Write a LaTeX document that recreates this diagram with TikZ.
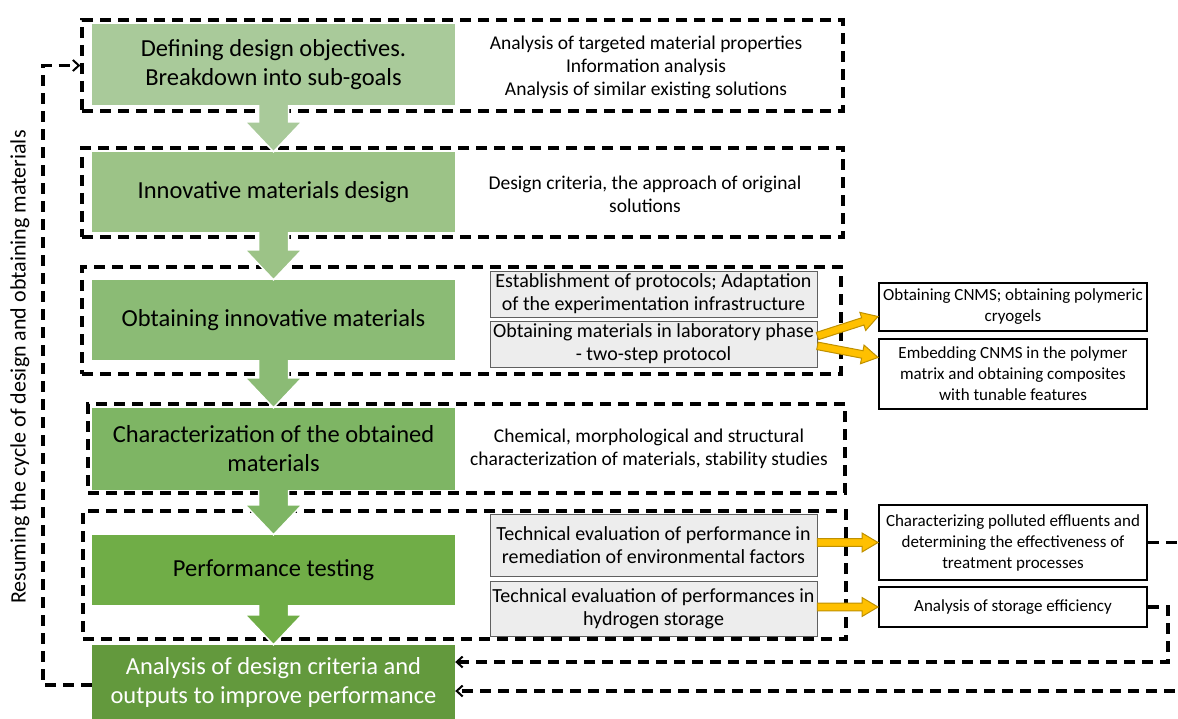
\documentclass[tikz,border=0pt]{standalone}
\usepackage{fontspec}
\setmainfont{Carlito}
\usetikzlibrary{calc,arrows.meta}
\definecolor{gA}{HTML}{A9CA9A}
\definecolor{gB}{HTML}{9CC387}
\definecolor{gC}{HTML}{8BBB75}
\definecolor{gD}{HTML}{7EB564}
\definecolor{gE}{HTML}{70AD47}
\definecolor{gF}{HTML}{63993D}
\definecolor{grayfill}{HTML}{EDEDED}
\definecolor{grayline}{HTML}{606060}
\definecolor{goldfill}{HTML}{FFC000}
\definecolor{goldline}{HTML}{BF9000}
\tikzset{
 stage/.style={fill=#1, minimum width=363pt, inner sep=0pt, align=center, font=\fontsize{24.5}{29}\selectfont},
 dashframe/.style={draw=black, line width=3.3pt, dash pattern=on 11pt off 7pt, inner sep=0pt},
 sidetext/.style={align=center, font=\fontsize{19.5}{23}\selectfont, inner sep=0pt},
 graybox/.style={draw=grayline, fill=grayfill, line width=0.9pt, minimum width=327pt, inner sep=0pt, align=center, font=\fontsize{20}{23}\selectfont},
 outbox/.style={draw=black, fill=white, line width=2pt, minimum width=268pt, inner sep=0pt, align=center, font=\fontsize{17}{21}\selectfont},
 feedback/.style={draw=black, line width=3.3pt, dash pattern=on 11pt off 7pt, -{Straight Barb[length=6pt,width=11pt,line width=2pt]}},
}
\newcommand{\stagearrow}[3]{%
 \fill[#3] ($(#1.south)+(-15,0)$) -- ($(#2.north)+(-15,-30)$) -- ($(#2.north)+(-28.5,-30)$) -- (#2.north) -- ($(#2.north)+(28.5,-30)$) -- ($(#2.north)+(15,-30)$) -- ($(#1.south)+(15,0)$) -- cycle;
 \draw[white, line width=1.5pt, line join=miter] ($(#1.south)+(-15,0)$) -- ($(#2.north)+(-15,-30)$) -- ($(#2.north)+(-28.5,-30)$) -- (#2.north) -- ($(#2.north)+(28.5,-30)$) -- ($(#2.north)+(15,-30)$) -- ($(#1.south)+(15,0)$);
}
\newcommand{\goldarrow}[2]{%
 \coordinate (gaS) at (#1);
 \coordinate (gaE) at (#2);
 \coordinate (gaH) at ($(gaE)!16pt!(gaS)$);
 \filldraw[fill=goldfill, draw=goldline, line width=1pt, line join=miter]
   ($(gaS)!3.8pt!90:(gaE)$) -- ($(gaH)!3.8pt!90:(gaE)$) -- ($(gaH)!9.5pt!90:(gaE)$) -- (gaE)
   -- ($(gaH)!9.5pt!-90:(gaE)$) -- ($(gaH)!3.8pt!-90:(gaE)$) -- ($(gaS)!3.8pt!-90:(gaE)$) -- cycle;
}
\begin{document}
\begin{tikzpicture}[x=1pt,y=-1pt]
\useasboundingbox (0,0) rectangle (1178,719);

% dashed frames
\node[dashframe, minimum width=761pt, minimum height=91pt] (d1) at (462.5,65.5) {};
\node[dashframe, minimum width=761pt, minimum height=89pt] (d2) at (462.5,192.5) {};
\node[dashframe, minimum width=759pt, minimum height=107pt] (d3) at (461.5,320.5) {};
\node[dashframe, minimum width=757pt, minimum height=89pt] (d4) at (466.5,448.5) {};
\node[dashframe, minimum width=763pt, minimum height=128pt] (d5) at (464.5,575) {};

% stages
\node[stage=gA, minimum height=81pt] (g1) at (273.5,64.5) {Defining design objectives.\\Breakdown into sub-goals};
\node[stage=gB, minimum height=80pt] (g2) at (273.5,192) {Innovative materials design};
\node[stage=gC, minimum height=80pt] (g3) at (273.5,320) {Obtaining innovative materials};
\node[stage=gD, minimum height=82pt] (g4) at (273.5,449) {Characterization of the obtained\\materials};
\node[stage=gE, minimum height=70pt] (g5) at (273.5,570) {Performance testing};
\node[stage=gF, minimum height=74pt, text=white] (g6) at (273.5,682) {Analysis of design criteria and\\outputs to improve performance};

\stagearrow{g1}{g2}{gA}
\stagearrow{g2}{g3}{gB}
\stagearrow{g3}{g4}{gC}
\stagearrow{g4}{g5}{gD}
\stagearrow{g5}{g6}{gE}

% side texts
\node[sidetext] (t1) at (646,67) {Analysis of targeted material properties\\Information analysis\\Analysis of similar existing solutions};
\node[sidetext] (t2) at (645,194.5) {Design criteria, the approach of original\\solutions};
\node[sidetext] (t4) at (649,449) {Chemical, morphological and structural\\characterization of materials, stability studies};

% gray boxes
\node[graybox, minimum height=46pt] (ga) at (653.5,294) {Establishment of protocols; Adaptation\\of the experimentation infrastructure};
\node[graybox, minimum height=46pt] (gb) at (653.5,344) {Obtaining materials in laboratory phase\\- two-step protocol};
\node[graybox, minimum height=62pt] (gd) at (653.5,545) {Technical evaluation of performance in\\remediation of environmental factors};
\node[graybox, minimum height=55pt] (ge) at (653.5,608.5) {Technical evaluation of performances in\\hydrogen storage};

% output boxes
\node[outbox, minimum height=48pt] (c1) at (1013,307) {Obtaining CNMS; obtaining polymeric\\cryogels};
\node[outbox, minimum height=70pt] (c2) at (1013,374) {Embedding CNMS in the polymer\\matrix and obtaining composites\\with tunable features};
\node[outbox, minimum height=75pt] (f1) at (1013,542.5) {Characterizing polluted effluents and\\determining the effectiveness of\\treatment processes};
\node[outbox, minimum height=40pt] (f2) at (1013,607) {Analysis of storage efficiency};

% gold arrows
\goldarrow{$(gb.north east)!0.33!(gb.south east)$}{$(c1.north west)!0.69!(c1.south west)$}
\goldarrow{$(gb.north east)!0.54!(gb.south east)$}{$(c2.north west)!0.27!(c2.south west)$}
\goldarrow{gd.east |- f1.west}{f1.west}
\goldarrow{ge.east |- f2.west}{f2.west}

% feedback loops
\coordinate (lb) at (43,685);
\coordinate (lt) at (43,65.5);
\draw[feedback] (g6.west |- lb) -- (lb) -- (lt) -- (d1.west);
\coordinate (r1) at (1195,691);
\draw[feedback] (f1.east) -| (r1) -- (g6.east |- r1);
\coordinate (r2) at (1168,662);
\draw[feedback] (f2.east) -| (r2) -- (g6.east |- r2);

% rotated label
\node[rotate=90, font=\fontsize{22}{26}\selectfont, inner sep=0pt] (loop) at (20,367) {Resuming the cycle of design and obtaining materials};
\end{tikzpicture}
\end{document}
